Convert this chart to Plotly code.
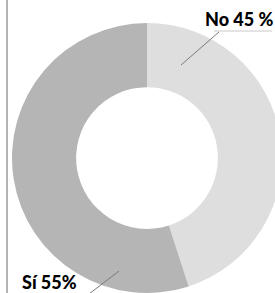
import plotly.graph_objects as go

labels = ["No", "Sí"]
values = [45, 55]
pct_sep = [" ", ""]
colors = ["#dedede", "#b5b5b5"]

W, H = 300, 300

def px(x):
    return x / W

def py(y):
    return (H - y) / H

fig = go.Figure(go.Pie(
    labels=labels,
    values=values,
    hole=0.525,
    sort=False,
    direction="clockwise",
    rotation=0,
    marker=dict(colors=colors, line=dict(width=0)),
    textinfo="none",
    hoverinfo="label+percent",
    domain=dict(x=[px(12), px(282)], y=[py(293), py(23)]),
    showlegend=False,
))

label_pos = [(239, 19), (49, 282)]
for lab, val, sep, (x, y) in zip(labels, values, pct_sep, label_pos):
    fig.add_annotation(
        x=px(x), y=py(y), xref="paper", yref="paper",
        text=f"{lab} {val}{sep}%", showarrow=False,
        font=dict(family="Lato", size=18, color="#000000", weight=900),
        xanchor="center", yanchor="middle",
    )

line_style = dict(color="#7a7a7a", width=1)
fig.add_shape(type="line", xref="paper", yref="paper",
              x0=px(214), y0=py(31), x1=px(272), y1=py(31), line=dict(color="#c8c8c8", width=1))
fig.add_shape(type="line", xref="paper", yref="paper",
              x0=px(219), y0=py(32), x1=px(181), y1=py(65), line=line_style)
fig.add_shape(type="line", xref="paper", yref="paper",
              x0=px(119), y0=py(271), x1=px(89), y1=py(294), line=line_style)
fig.add_shape(type="line", xref="paper", yref="paper",
              x0=px(7), y0=py(0), x1=px(7), y1=py(300), line=dict(color="#9a9a9a", width=1.5))

fig.update_layout(
    width=W, height=H,
    margin=dict(l=0, r=0, t=0, b=0),
    paper_bgcolor="white",
    plot_bgcolor="white",
)

fig.write_html(
    "out.html",
    config={"displayModeBar": False},
    post_script="document.documentElement.style.overflow='hidden';document.body.style.overflow='hidden';document.body.style.margin='0';",
)
